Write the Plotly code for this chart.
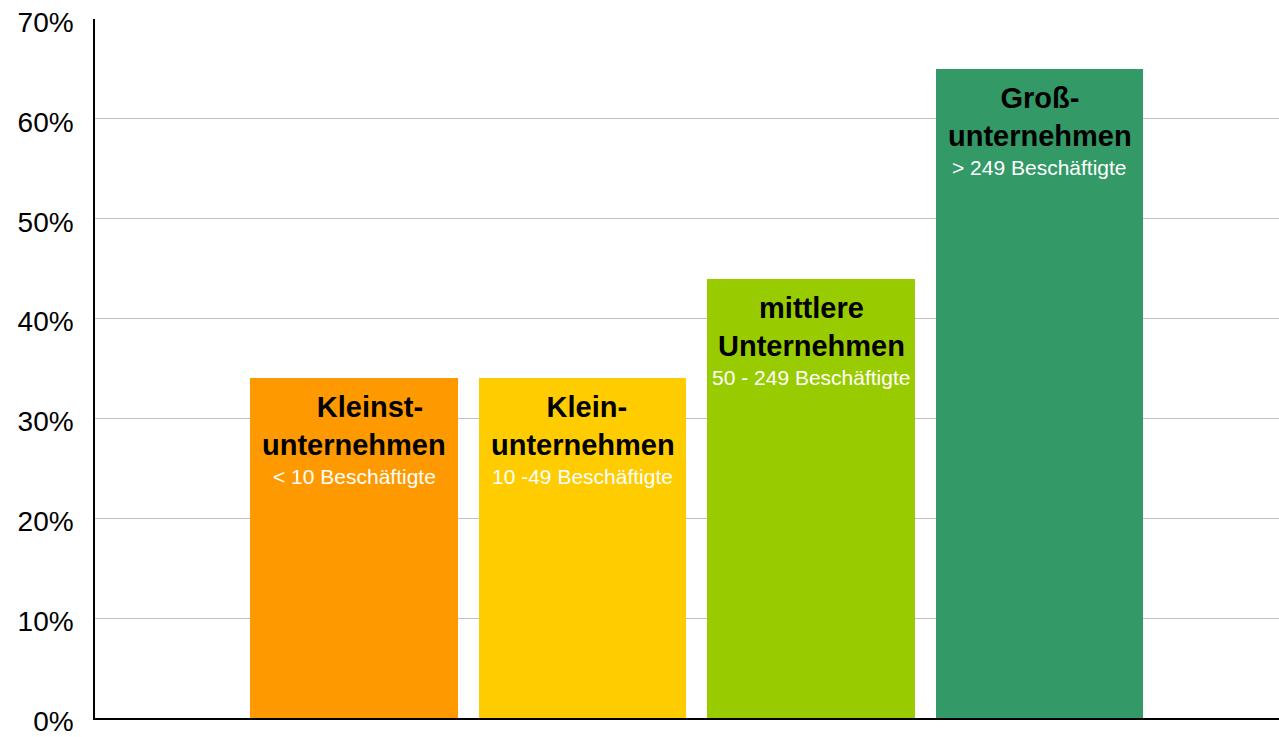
import plotly.graph_objects as go

categories = ["Kleinstunternehmen", "Kleinunternehmen", "mittlere Unternehmen", "Großunternehmen"]
values = [34, 34, 44, 65]
titles = ["\u00a0\u00a0\u00a0\u00a0Kleinst-<br>unternehmen", "\u00a0Klein-<br>unternehmen",
          "mittlere<br>Unternehmen", "Groß-<br>unternehmen"]
subtitles = ["< 10 Beschäftigte", "10 -49 Beschäftigte", "50 - 249 Beschäftigte", "> 249 Beschäftigte"]
colors = ["#FF9900", "#FFCC00", "#99CC00", "#339966"]
tick_vals = [0, 10, 20, 30, 40, 50, 60, 70]
tick_text = [f"{v}%" for v in tick_vals]

FONT = "Arial, Liberation Sans, sans-serif"

fig = go.Figure()
fig.add_trace(go.Bar(
    x=categories, y=values, marker=dict(color=colors, line=dict(width=0)),
    width=0.908, hoverinfo="skip", showlegend=False,
))

for cat, val, t, s in zip(categories, values, titles, subtitles):
    fig.add_annotation(x=cat, y=val, text=f"<b>{t}</b>", showarrow=False,
                       xanchor="center", yanchor="top", yshift=-11,
                       font=dict(family=FONT, size=29, color="#000000"))
    fig.add_annotation(x=cat, y=val, text=s, showarrow=False,
                       xanchor="center", yanchor="top", yshift=-85,
                       font=dict(family=FONT, size=21, color="#FFFFFF"))

fig.update_layout(
    width=1279, height=737,
    margin=dict(l=95, r=0, t=19, b=16),
    paper_bgcolor="white", plot_bgcolor="white",
    bargap=0,
    xaxis=dict(type="category", range=[-1.1335, 4.048], showticklabels=False,
               showgrid=False, showline=True, linecolor="#000000", linewidth=1.5,
               ticks="", zeroline=False),
    yaxis=dict(range=[0, 70], tickvals=tick_vals, ticktext=tick_text,
               showgrid=True, gridcolor="#C0C0C0", gridwidth=1,
               showline=True, linecolor="#000000", linewidth=1.5,
               ticks="", ticklabelstandoff=14, ticklabelshift=3, ticklabeloverflow="allow",
               zeroline=False,
               tickfont=dict(family=FONT, size=28, color="#000000")),
)

fig.write_html("out.html", config={"displayModeBar": False},
               post_script="document.body.style.margin='0';")
